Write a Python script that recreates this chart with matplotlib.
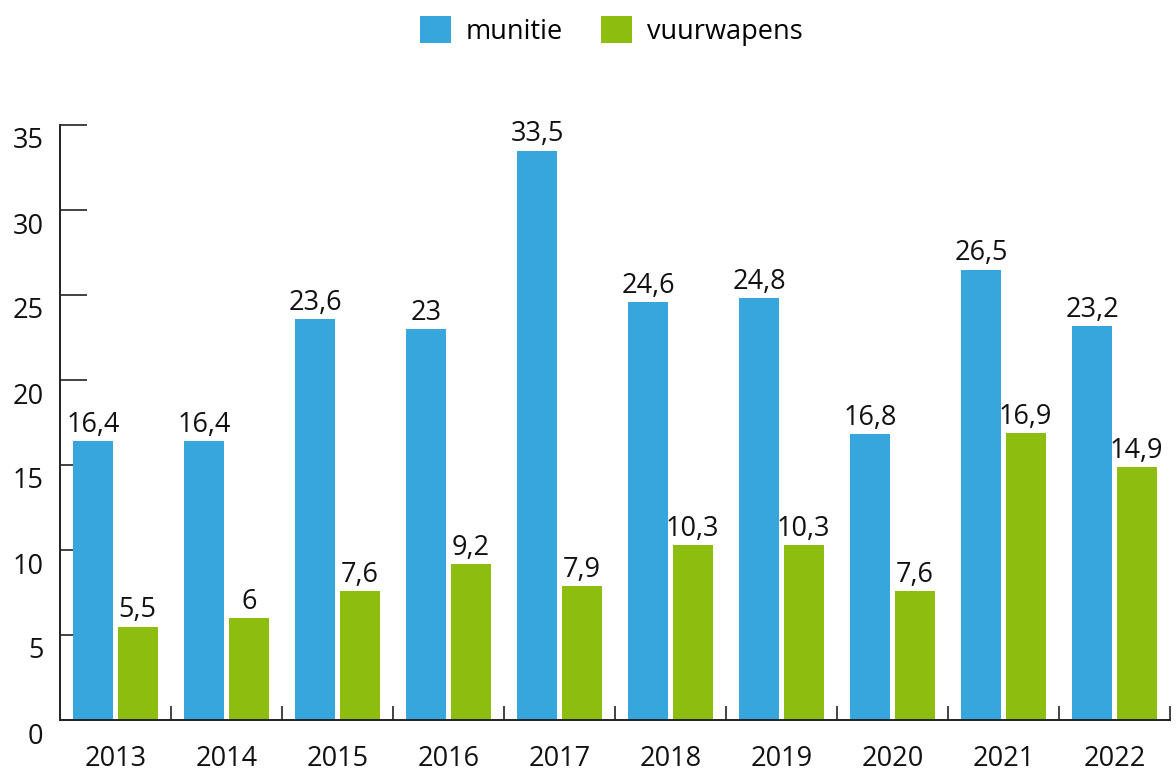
import matplotlib
matplotlib.use("Agg")
import matplotlib.pyplot as plt
import numpy as np
from matplotlib.transforms import ScaledTranslation
from matplotlib.patches import Patch

years = ["2013", "2014", "2015", "2016", "2017", "2018", "2019", "2020", "2021", "2022"]
munitie = [16.4, 16.4, 23.6, 23, 33.5, 24.6, 24.8, 16.8, 26.5, 23.2]
vuurwapens = [5.5, 6, 7.6, 9.2, 7.9, 10.3, 10.3, 7.6, 16.9, 14.9]
series_names = ["munitie", "vuurwapens"]
colors = ["#36A6DC", "#8CBD0F"]

plt.rcParams['font.family'] = ['Open Sans', 'DejaVu Sans']
FS = 19.5

fig = plt.figure(figsize=(11.76, 7.73), dpi=100)
W, H = 1176, 773
ax = fig.add_axes([60 / W, 1 - 720 / H, (1170 - 60) / W, (720 - 125) / H])

x = np.arange(len(years))
bw = 0.36
off = 0.2
for vals, sgn, c in [(munitie, -1, colors[0]), (vuurwapens, 1, colors[1])]:
    bars = ax.bar(x + sgn * off, vals, width=bw, color=c, zorder=2)
    for b, v in zip(bars, vals):
        ax.annotate(f"{v:g}".replace(".", ","), (b.get_x() + b.get_width() / 2, b.get_height()),
                    xytext=(0, 1.5), textcoords="offset points", ha="center", va="bottom",
                    fontsize=FS, color="#111111")

ax.set_xlim(-0.5, len(years) - 0.5)
ax.set_ylim(0, 35)
ax.set_yticks(np.arange(0, 36, 5))
ax.set_xticks(x)
ax.set_xticklabels(years)
ax.set_xticks(np.arange(0.5, len(years), 1), minor=True)

for s in ["top", "right"]:
    ax.spines[s].set_visible(False)
for s in ["left", "bottom"]:
    ax.spines[s].set_linewidth(1.4)
    ax.spines[s].set_color("#222222")

ax.tick_params(axis="y", direction="in", length=19.5, width=1.2, color="#222222",
               labelsize=FS, pad=12, labelcolor="#111111")
ax.tick_params(axis="x", which="major", length=0, labelsize=FS, pad=18, labelcolor="#111111")
ax.tick_params(axis="x", which="minor", direction="in", length=10, width=1.2, color="#222222")

dy = ScaledTranslation(0, -13 / 100, fig.dpi_scale_trans)
for lab in ax.get_yticklabels():
    lab.set_transform(lab.get_transform() + dy)

handles = [Patch(facecolor=colors[0]), Patch(facecolor=colors[1])]
fig.legend(handles, series_names, loc="center", bbox_to_anchor=(611 / W, 1 - 31 / H),
           ncol=2, frameon=False, fontsize=19.5, handlelength=1.15, handleheight=1.15,
           handletextpad=0.55, columnspacing=1.4, borderaxespad=0, borderpad=0)

fig.savefig("out.png", dpi=100)
